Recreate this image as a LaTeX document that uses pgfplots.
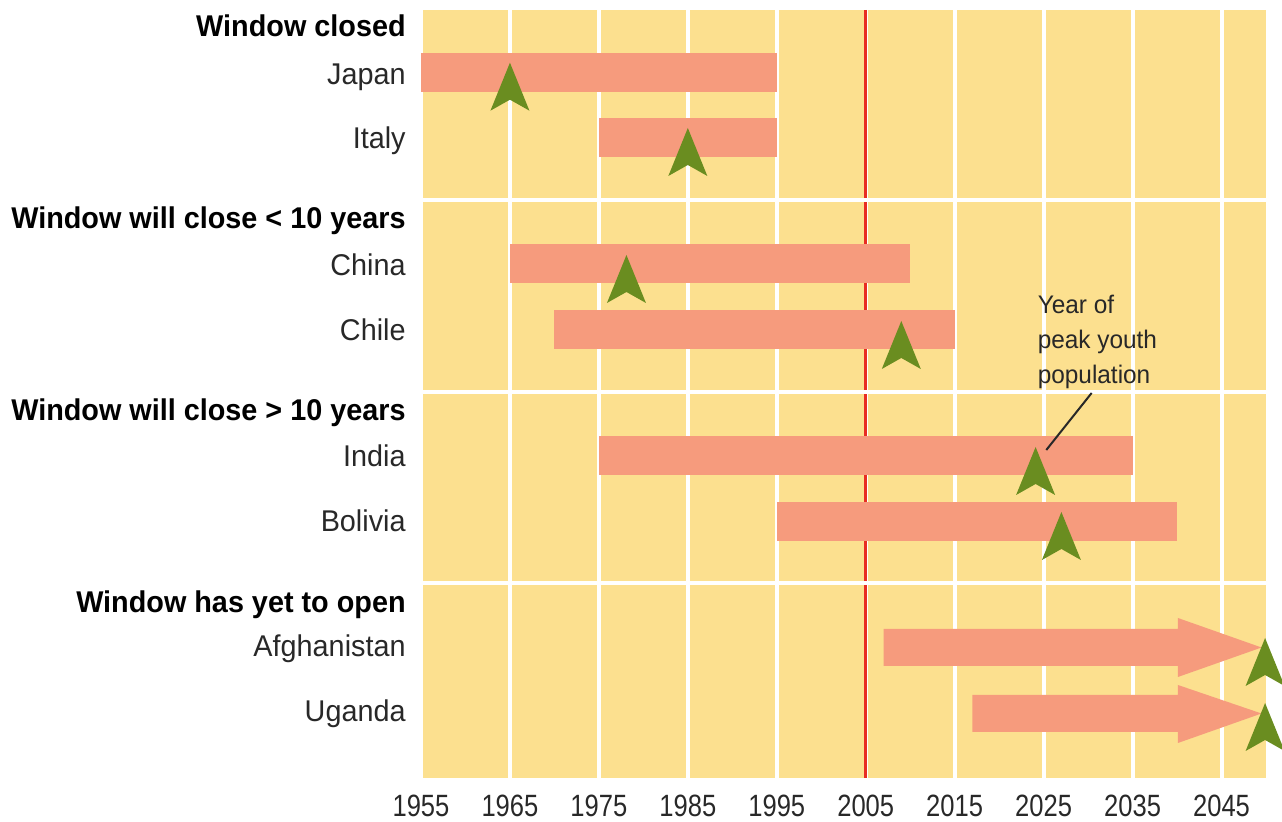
\documentclass[border=0pt]{standalone}
\usepackage{fontspec}
\setmainfont{Liberation Sans}[FakeStretch=0.96]
\newfontfamily\numfont{Liberation Sans}[FakeStretch=0.83]
\usepackage{pgfplots}
\pgfplotsset{compat=1.18}
\definecolor{bgyellow}{RGB}{252,224,143}
\definecolor{barcol}{RGB}{246,155,125}
\definecolor{peakgreen}{RGB}{106,141,32}
\definecolor{redline}{RGB}{232,45,35}
\definecolor{txt}{RGB}{40,40,40}
\pgfdeclareplotmark{peak}{%
  \pgfpathmoveto{\pgfpoint{0pt}{0pt}}%
  \pgfpathlineto{\pgfpoint{9.75pt}{-24pt}}%
  \pgfpathlineto{\pgfpoint{0pt}{-18.5pt}}%
  \pgfpathlineto{\pgfpoint{-9.75pt}{-24pt}}%
  \pgfpathclose\pgfusepathqfill}
\begin{document}
\begin{tikzpicture}
\path[use as bounding box] (0,0) rectangle (641pt,411pt);
\begin{axis}[
  at={(210.5pt,22pt)}, anchor=south west,
  scale only axis, width=422.5pt, height=384pt,
  xmin=1955, xmax=2050, ymin=10, ymax=778, y dir=reverse,
  clip=false,
  axis background/.style={fill=bgyellow},
  axis line style={draw=none},
  major tick length=0pt,
  xtick={1955,1965,1975,1985,1995,2005,2015,2025,2035,2045},
  xticklabels={1955,1965,1975,1985,1995,2005,2015,2025,2035,2045},
  xticklabel style={font=\numfont\fontsize{15.4}{18}\selectfont, text=txt, inner sep=0pt, yshift=-8.5pt},
  xmajorgrids, major grid style={white, line width=2pt},
  ytick={74,138,265,330,456,521,646,711},
  yticklabels={Japan,Italy,China,Chile,India,Bolivia,Afghanistan,Uganda},
  yticklabel style={font=\fontsize{15}{18}\selectfont, text=txt, inner sep=0pt, xshift=-7.5pt, text height=10.7pt, text depth=0pt, anchor=east},
  extra y ticks={26,218,410,602},
  extra y tick labels={Window closed,Window will close < 10 years,Window will close > 10 years,Window has yet to open},
  extra y tick style={ymajorgrids=false, yticklabel style={font=\fontsize{15}{18}\selectfont\bfseries, text=black}},
]
% reference year
\addplot[redline, line width=1.5pt] coordinates {(2005,10) (2005,778)};
% group separators
\addplot[white, line width=2pt] coordinates {(1955,200) (2050,200)};
\addplot[white, line width=2pt] coordinates {(1955,392) (2050,392)};
\addplot[white, line width=2pt] coordinates {(1955,583) (2050,583)};
% windows
\addplot[fill=barcol, draw=none] coordinates {(1955,53) (1995,53) (1995,92) (1955,92)};
\addplot[fill=barcol, draw=none] coordinates {(1975,118) (1995,118) (1995,157) (1975,157)};
\addplot[fill=barcol, draw=none] coordinates {(1965,244) (2010,244) (2010,283) (1965,283)};
\addplot[fill=barcol, draw=none] coordinates {(1970,310) (2015,310) (2015,349) (1970,349)};
\addplot[fill=barcol, draw=none] coordinates {(1975,436) (2035,436) (2035,475) (1975,475)};
\addplot[fill=barcol, draw=none] coordinates {(1995,502) (2040,502) (2040,541) (1995,541)};
\addplot[fill=barcol, draw=none] coordinates {(2007,629) (2040.1,629) (2040.1,618) (2049.5,647.5) (2040.1,677) (2040.1,666) (2007,666)};
\addplot[fill=barcol, draw=none] coordinates {(2017,695) (2040.1,695) (2040.1,685) (2049.5,713.5) (2040.1,743) (2040.1,732) (2017,732)};
% annotation
\addplot[txt, line width=1pt] coordinates {(2030.4,393) (2025.3,450)};
\node[anchor=west, align=left, inner sep=0pt, text=txt, font=\fontsize{12.7}{17.5}\selectfont] at (axis cs:2024.3,342) {Year of\\peak youth\\population};
% peak youth years
\addplot[only marks, mark=peak, color=peakgreen] coordinates {
(1965,62.7) (1985,128) (1978.1,255) (2009,321) (2024.1,447) (2027,512) (2049.9,638) (2049.9,703)};
\end{axis}
\end{tikzpicture}
\end{document}
